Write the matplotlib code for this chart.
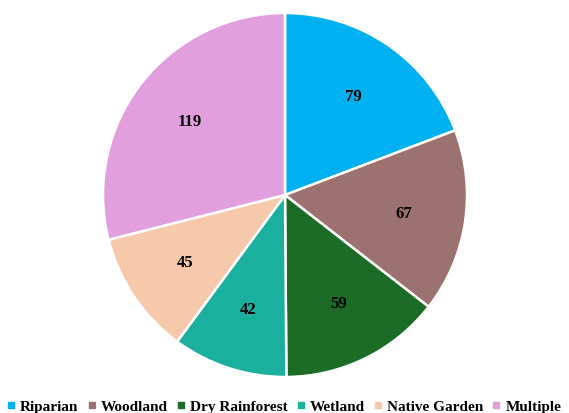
import matplotlib
matplotlib.use("Agg")
import matplotlib.pyplot as plt
from matplotlib.lines import Line2D

categories = ["Riparian", "Woodland", "Dry Rainforest", "Wetland", "Native Garden", "Multiple"]
values = [79, 67, 59, 42, 45, 119]
colors = ["#00B0F0", "#9B726F", "#1C6B26", "#1BB09E", "#F6C9AD", "#E1A0DD"]

plt.rcParams['font.family'] = ['Liberation Serif', 'DejaVu Serif']

fig = plt.figure(figsize=(5.69, 4.14), dpi=100)
W, H = 569, 414
cx, cy, r = 285, 196, 182
ax = fig.add_axes([(cx - r) / W, (H - cy - r) / H, 2 * r / W, 2 * r / H])

wedges, texts = ax.pie(values, colors=colors, startangle=90, counterclock=False,
                       radius=1.0, wedgeprops=dict(edgecolor="white", linewidth=1.8),
                       labels=[str(v) for v in values], labeldistance=0.66,
                       textprops=dict(fontsize=12, fontweight="bold", color="black",
                                      ha="center", va="center"))
ax.set_xlim(-1, 1)
ax.set_ylim(-1, 1)
ax.set_aspect("equal")
ax.axis("off")

handles = [Line2D([], [], marker="s", linestyle="none", markersize=4.5,
                  markerfacecolor=c, markeredgecolor=c) for c in colors]
fig.legend(handles, categories, loc="center", bbox_to_anchor=(0.499, 1 - 407 / H),
           ncol=6, frameon=False, handlelength=0.6, handletextpad=0.3,
           columnspacing=0.55, borderpad=0, prop=dict(size=11, weight="bold"))

fig.savefig("out.png", dpi=100)
